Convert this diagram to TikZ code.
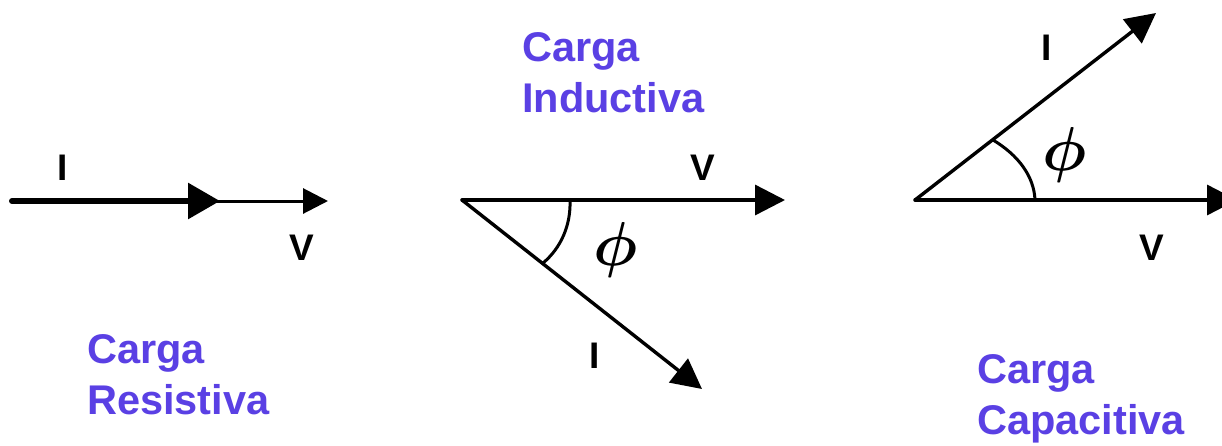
\RequirePackage{fix-cm}
\documentclass[tikz,border=0pt]{standalone}
\usepackage{amsmath}
\usepackage{fontspec}
\setmainfont{Liberation Sans}
\usetikzlibrary{arrows.meta}
\definecolor{cargablue}{RGB}{90,64,228}
\begin{document}
\begin{tikzpicture}[x=1pt,y=-1pt,
  title/.style={anchor=north west,inner sep=0pt,align=left,text=cargablue,
    font=\fontsize{41.5}{51}\selectfont\bfseries},
  lbl/.style={anchor=base,inner sep=0pt,font=\fontsize{37}{44}\selectfont\bfseries},
  phil/.style={anchor=base,inner sep=0pt,font=\fontsize{62}{62}\selectfont},
  vec/.style={line width=3.4pt,-{Triangle[length=30pt,width=30pt]}},
  thin/.style={line width=3pt,-{Triangle[length=25pt,width=25pt]}},
  thick/.style={line width=6pt,line cap=round,-{Triangle[length=32pt,width=35pt]}},
  ang/.style={line width=3pt}]
\useasboundingbox (0,0) rectangle (1222,445);
% ---------- resistive ----------
\coordinate (O1) at (12,201);
\coordinate (V1) at (328,201);
\coordinate (I1) at (220,201);
\draw[thin] (O1) -- (V1);
\draw[thick] (O1) -- (I1);
\node[lbl] (lI1) at (63,180) {I};
\node[lbl] (lV1) at (302,260) {V};
\node[title] (t1) at (87,334) {Carga\\Resistiva};
% ---------- inductive ----------
\coordinate (O2) at (462,200);
\coordinate (V2) at (785,200);
\coordinate (I2) at (702,389);
\draw[vec,line cap=round] (O2) -- (V2);
\draw[vec,line cap=round] (O2) -- (I2);
\coordinate (a2s) at (570,200);
\coordinate (a2e) at (543,263);
\draw[ang] (a2s) .. controls (571,225) and (561,248) .. (a2e);
\node[phil] (p2) at (616,265) {$\boldsymbol{\phi}$};
\node[lbl] (lV2) at (703,180) {V};
\node[lbl] (lI2) at (595,368) {I};
\node[title] (t2) at (522,32) {Carga\\Inductiva};
% ---------- capacitive ----------
\coordinate (O3) at (915,200);
\coordinate (V3) at (1237,200);
\coordinate (I3) at (1156,13);
\draw[vec,line cap=round] (O3) -- (V3);
\draw[vec,line cap=round] (O3) -- (I3);
\coordinate (a3s) at (1035,200);
\coordinate (a3e) at (993,140);
\draw[ang] (a3s) .. controls (1034,176) and (1018,155) .. (a3e);
\node[phil] (p3) at (1065,170) {$\boldsymbol{\phi}$};
\node[lbl] (lI3) at (1047,60) {I};
\node[lbl] (lV3) at (1152,260) {V};
\node[title] (t3) at (977,354) {Carga\\Capacitiva};
\end{tikzpicture}
\end{document}
